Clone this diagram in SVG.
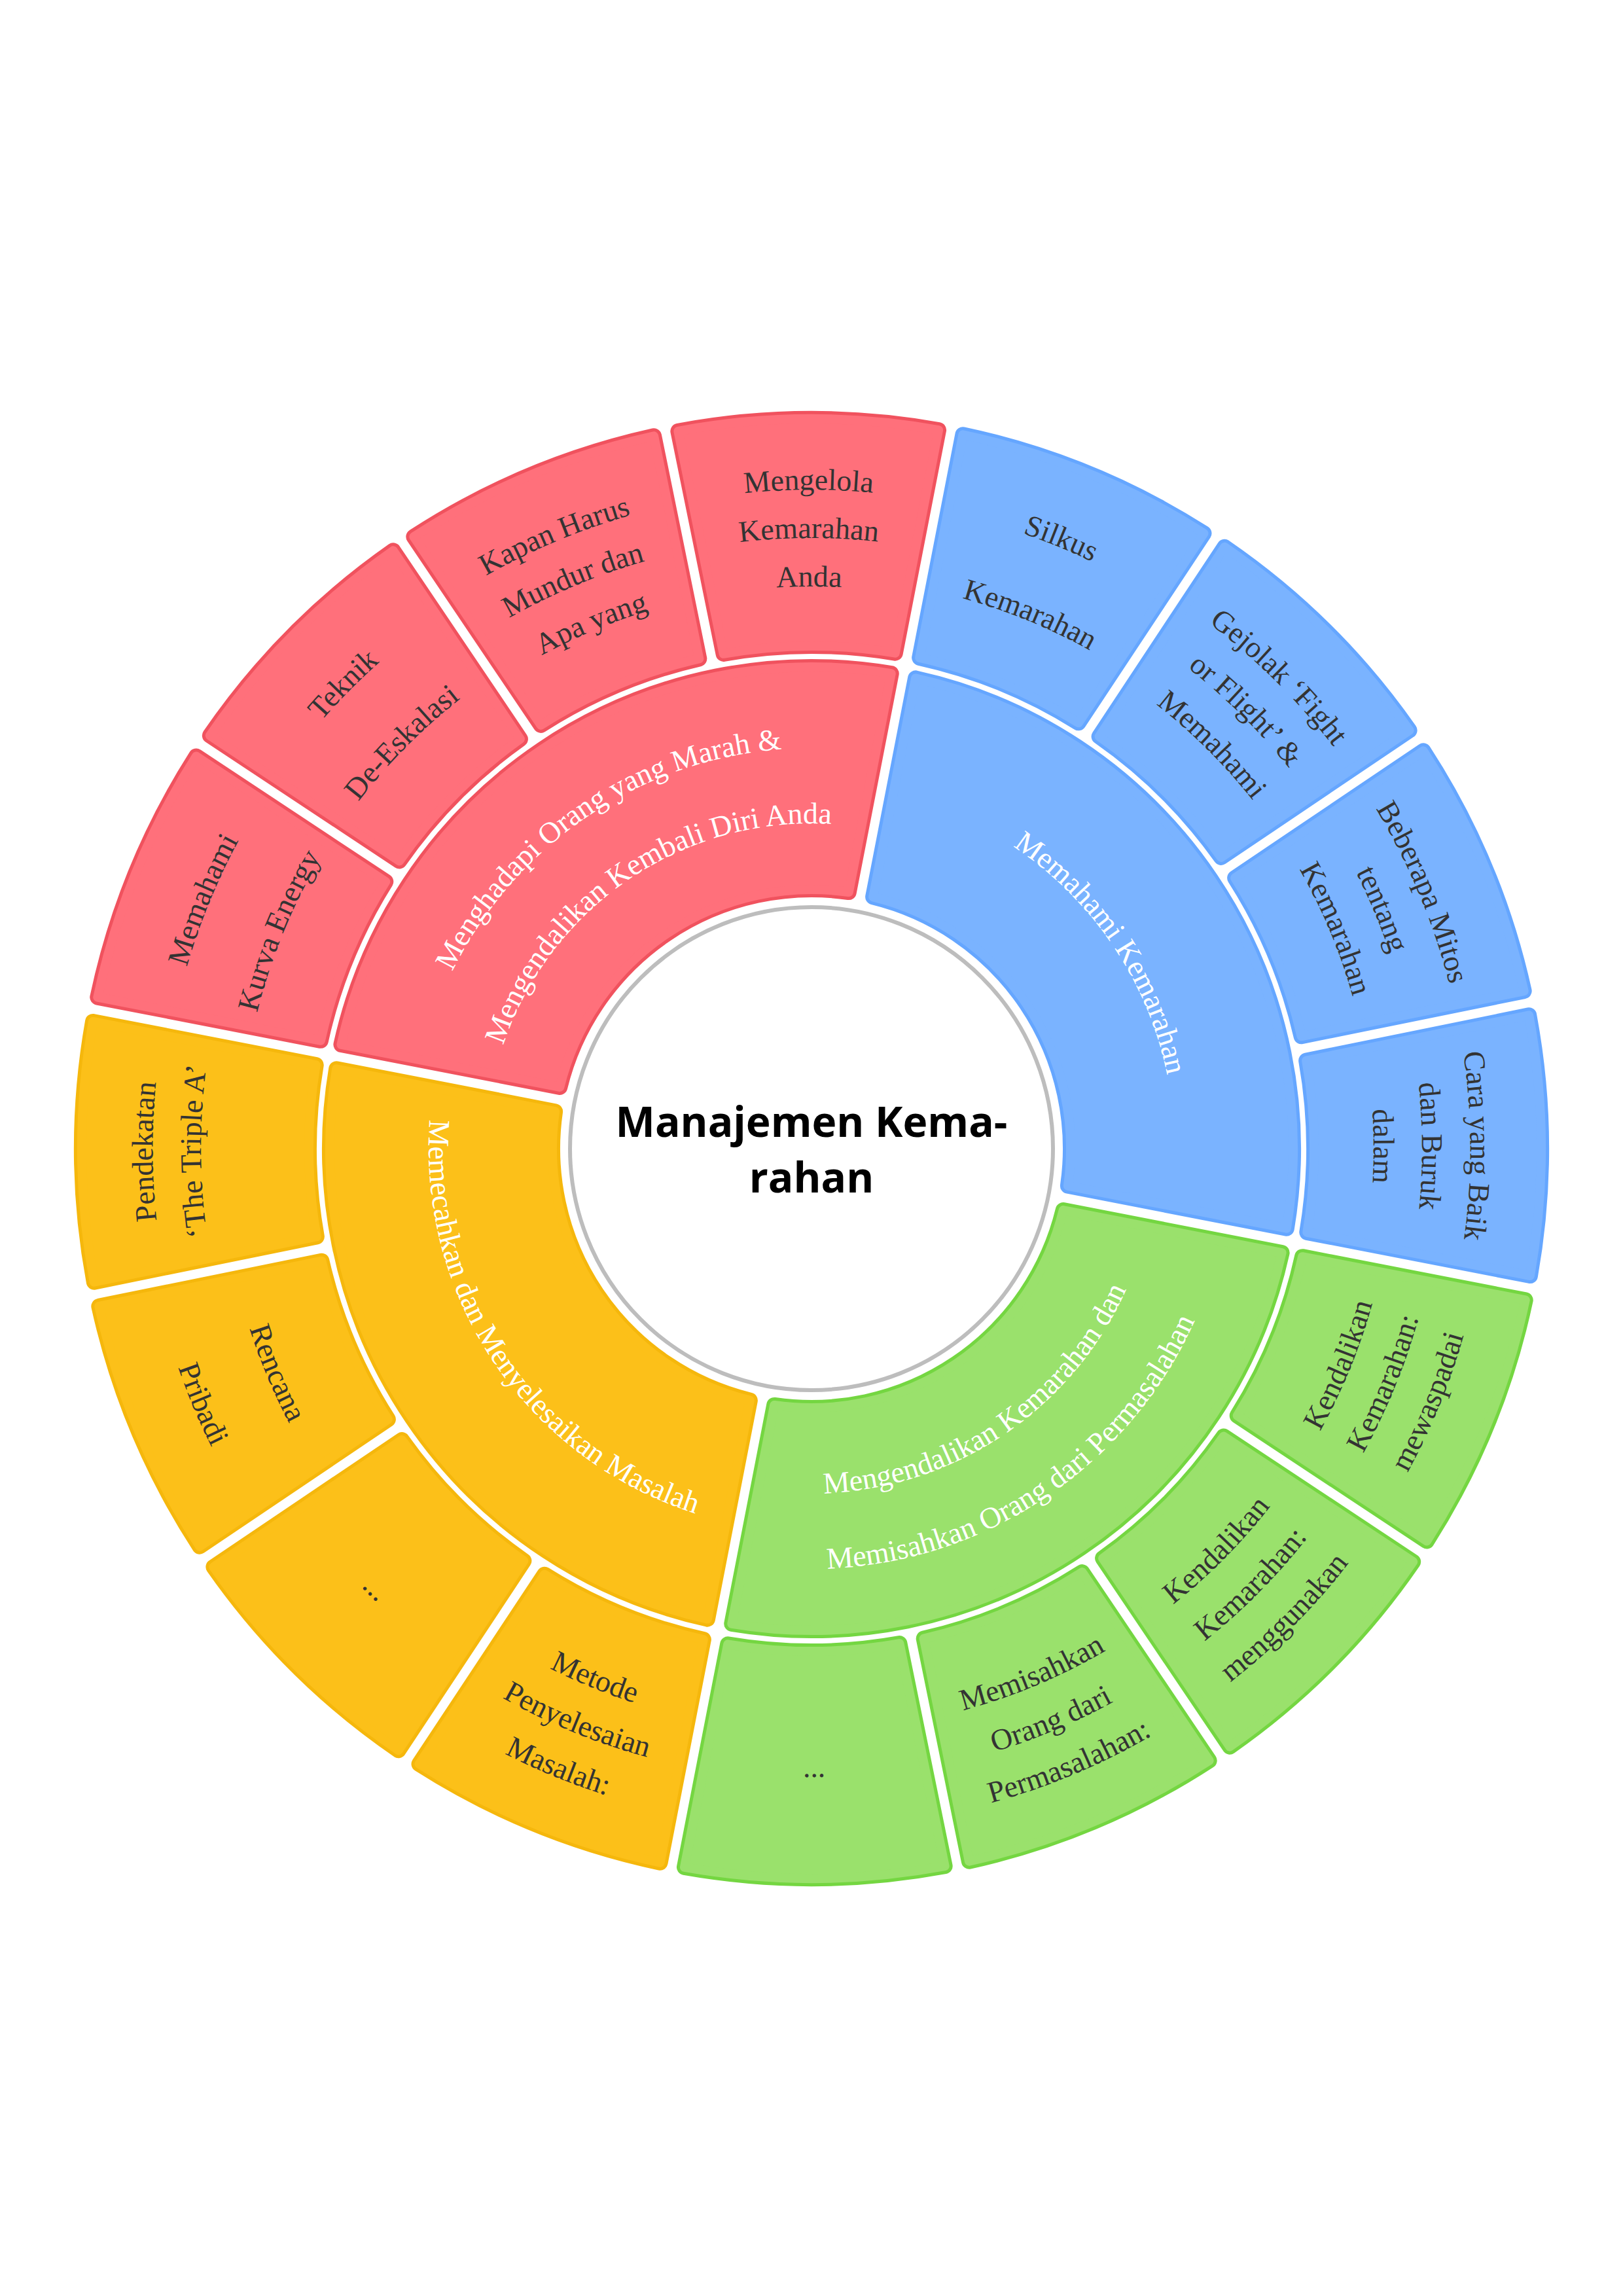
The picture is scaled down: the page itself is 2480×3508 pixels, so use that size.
<svg xmlns="http://www.w3.org/2000/svg" xmlns:xlink="http://www.w3.org/1999/xlink" width="2480" height="3508" viewBox="0 0 2480 3508">
<style>
.rb{fill:#F0525E;stroke:#F0525E;stroke-width:24;stroke-linejoin:round}
.rf{fill:#FF707B;stroke:#FF707B;stroke-width:14;stroke-linejoin:round}
.bb{fill:#65A6FF;stroke:#65A6FF;stroke-width:24;stroke-linejoin:round}
.bf{fill:#7AB3FF;stroke:#7AB3FF;stroke-width:14;stroke-linejoin:round}
.gb{fill:#74D641;stroke:#74D641;stroke-width:24;stroke-linejoin:round}
.gf{fill:#9AE16C;stroke:#9AE16C;stroke-width:14;stroke-linejoin:round}
.yb{fill:#F5B70C;stroke:#F5B70C;stroke-width:24;stroke-linejoin:round}
.yf{fill:#FCC019;stroke:#FCC019;stroke-width:14;stroke-linejoin:round}
.lo{font-family:"Liberation Serif","Times New Roman",serif;font-size:46px;fill:#333333;text-anchor:middle}
.li{font-family:"Liberation Serif","Times New Roman",serif;font-size:46px;fill:#ffffff;text-anchor:middle}
.ct{font-family:"Open Sans","Noto Sans",sans-serif;font-size:64px;font-weight:700;fill:#000000;text-anchor:middle}
</style>
<defs>
<path id="so" d="M1041.13,657.88 A1115,1115 0 0 1 1438.87,657.88 L1371.15,998.28 A768,768 0 0 0 1108.85,998.28 Z"/>
<path id="si" d="M733.18,1221.31 A736,736 0 0 1 1746.82,1221.31 L1506.26,1461.87 A396,396 0 0 0 973.74,1461.87 Z"/>
<path id="t1007" d="M233,1755 A1007,1007 0 0 1 2247,1755"/>
<path id="t933" d="M307,1755 A933,933 0 0 1 2173,1755"/>
<path id="t859" d="M381,1755 A859,859 0 0 1 2099,1755"/>
<path id="t994" d="M246,1755 A994,994 0 0 1 2234,1755"/>
<path id="t872" d="M368,1755 A872,872 0 0 1 2112,1755"/>
<path id="b889" d="M351,1755 A889,889 0 0 0 2129,1755"/>
<path id="b963" d="M277,1755 A963,963 0 0 0 2203,1755"/>
<path id="b1037" d="M203,1755 A1037,1037 0 0 0 2277,1755"/>
<path id="b902" d="M338,1755 A902,902 0 0 0 2142,1755"/>
<path id="b1024" d="M216,1755 A1024,1024 0 0 0 2264,1755"/>
<path id="b960" d="M280,1755 A960,960 0 0 0 2200,1755"/>
<path id="t612" d="M628,1755 A612,612 0 0 1 1852,1755"/>
<path id="t497" d="M743,1755 A497,497 0 0 1 1737,1755"/>
<path id="t555" d="M685,1755 A555,555 0 0 1 1795,1755"/>
<path id="b527" d="M713,1755 A527,527 0 0 0 1767,1755"/>
<path id="b642" d="M598,1755 A642,642 0 0 0 1882,1755"/>
<path id="b585" d="M655,1755 A585,585 0 0 0 1825,1755"/>
</defs>
<rect x="0" y="0" width="2480" height="3508" fill="#ffffff"/>

<g id="inner-red" transform="rotate(326 1240 1755)">
<use href="#si" class="rb"/><use href="#si" class="rf"/>
<text class="li"><textPath href="#t612" startOffset="50%">Menghadapi Orang yang Marah &amp;</textPath></text>
<text class="li"><textPath href="#t497" startOffset="50%">Mengendalikan Kembali Diri Anda</textPath></text>
</g>
<g id="inner-blue" transform="rotate(56 1240 1755)">
<use href="#si" class="bb"/><use href="#si" class="bf"/>
<text class="li"><textPath href="#t555" startOffset="50%">Memahami Kemarahan</textPath></text>
</g>
<g id="inner-green" transform="rotate(146 1240 1755)">
<use href="#si" class="gb"/><use href="#si" class="gf"/>
<g transform="rotate(180 1240 1755)">
<text class="li"><textPath href="#b527" startOffset="50%">Mengendalikan Kemarahan dan</textPath></text>
<text class="li"><textPath href="#b642" startOffset="50%">Memisahkan Orang dari Permasalahan</textPath></text>
</g>
</g>
<g id="inner-yellow" transform="rotate(236 1240 1755)">
<use href="#si" class="yb"/><use href="#si" class="yf"/>
<g transform="rotate(180 1240 1755)">
<text class="li"><textPath href="#b585" startOffset="50%">Memecahkan dan Menyelesaikan Masalah</textPath></text>
</g>
</g>

<g id="outer-silkus" transform="rotate(22.25 1240 1755)">
<use href="#so" class="bb"/><use href="#so" class="bf"/>
<text class="lo"><textPath href="#t994" startOffset="50%">Silkus</textPath></text>
<text class="lo"><textPath href="#t872" startOffset="50%">Kemarahan</textPath></text>
</g>
<g id="outer-gejolak" transform="rotate(44.75 1240 1755)">
<use href="#so" class="bb"/><use href="#so" class="bf"/>
<text class="lo"><textPath href="#t1007" startOffset="50%">Gejolak ‘Fight</textPath></text>
<text class="lo"><textPath href="#t933" startOffset="50%">or Flight’ &amp;</textPath></text>
<text class="lo"><textPath href="#t859" startOffset="50%">Memahami</textPath></text>
</g>
<g id="outer-mitos" transform="rotate(67.25 1240 1755)">
<use href="#so" class="bb"/><use href="#so" class="bf"/>
<text class="lo"><textPath href="#t1007" startOffset="50%">Beberapa Mitos</textPath></text>
<text class="lo"><textPath href="#t933" startOffset="50%">tentang</textPath></text>
<text class="lo"><textPath href="#t859" startOffset="50%">Kemarahan</textPath></text>
</g>
<g id="outer-cara" transform="rotate(89.75 1240 1755)">
<use href="#so" class="bb"/><use href="#so" class="bf"/>
<text class="lo"><textPath href="#t1007" startOffset="50%">Cara yang Baik</textPath></text>
<text class="lo"><textPath href="#t933" startOffset="50%">dan Buruk</textPath></text>
<text class="lo"><textPath href="#t859" startOffset="50%">dalam</textPath></text>
</g>

<g id="outer-mewaspadai" transform="rotate(112.25 1240 1755)">
<use href="#so" class="gb"/><use href="#so" class="gf"/>
<g transform="rotate(180 1240 1755)">
<text class="lo"><textPath href="#b889" startOffset="50%">Kendalikan</textPath></text>
<text class="lo"><textPath href="#b963" startOffset="50%">Kemarahan:</textPath></text>
<text class="lo"><textPath href="#b1037" startOffset="50%">mewaspadai</textPath></text>
</g>
</g>
<g id="outer-menggunakan" transform="rotate(134.75 1240 1755)">
<use href="#so" class="gb"/><use href="#so" class="gf"/>
<g transform="rotate(180 1240 1755)">
<text class="lo"><textPath href="#b889" startOffset="50%">Kendalikan</textPath></text>
<text class="lo"><textPath href="#b963" startOffset="50%">Kemarahan:</textPath></text>
<text class="lo"><textPath href="#b1037" startOffset="50%">menggunakan</textPath></text>
</g>
</g>
<g id="outer-memisahkan" transform="rotate(157.25 1240 1755)">
<use href="#so" class="gb"/><use href="#so" class="gf"/>
<g transform="rotate(180 1240 1755)">
<text class="lo"><textPath href="#b889" startOffset="50%">Memisahkan</textPath></text>
<text class="lo"><textPath href="#b963" startOffset="50%">Orang dari</textPath></text>
<text class="lo"><textPath href="#b1037" startOffset="50%">Permasalahan:</textPath></text>
</g>
</g>
<g id="outer-green-more" transform="rotate(179.75 1240 1755)">
<use href="#so" class="gb"/><use href="#so" class="gf"/>
<g transform="rotate(180 1240 1755)">
<text class="lo"><textPath href="#b960" startOffset="50%">...</textPath></text>
</g>
</g>

<g id="outer-metode" transform="rotate(202.25 1240 1755)">
<use href="#so" class="yb"/><use href="#so" class="yf"/>
<g transform="rotate(180 1240 1755)">
<text class="lo"><textPath href="#b889" startOffset="50%">Metode</textPath></text>
<text class="lo"><textPath href="#b963" startOffset="50%">Penyelesaian</textPath></text>
<text class="lo"><textPath href="#b1037" startOffset="50%">Masalah:</textPath></text>
</g>
</g>
<g id="outer-yellow-more" transform="rotate(224.75 1240 1755)">
<use href="#so" class="yb"/><use href="#so" class="yf"/>
<g transform="rotate(180 1240 1755)">
<text class="lo"><textPath href="#b960" startOffset="50%">...</textPath></text>
</g>
</g>
<g id="outer-rencana" transform="rotate(247.25 1240 1755)">
<use href="#so" class="yb"/><use href="#so" class="yf"/>
<g transform="rotate(180 1240 1755)">
<text class="lo"><textPath href="#b902" startOffset="50%">Rencana</textPath></text>
<text class="lo"><textPath href="#b1024" startOffset="50%">Pribadi</textPath></text>
</g>
</g>
<g id="outer-pendekatan" transform="rotate(269.75 1240 1755)">
<use href="#so" class="yb"/><use href="#so" class="yf"/>
<text class="lo"><textPath href="#t1007" startOffset="50%">Pendekatan</textPath></text>
<text class="lo"><textPath href="#t933" startOffset="50%">‘The Triple A’</textPath></text>
</g>

<g id="outer-kurva" transform="rotate(292.25 1240 1755)">
<use href="#so" class="rb"/><use href="#so" class="rf"/>
<text class="lo"><textPath href="#t994" startOffset="50%">Memahami</textPath></text>
<text class="lo"><textPath href="#t872" startOffset="50%">Kurva Energy</textPath></text>
</g>
<g id="outer-teknik" transform="rotate(314.75 1240 1755)">
<use href="#so" class="rb"/><use href="#so" class="rf"/>
<text class="lo"><textPath href="#t994" startOffset="50%">Teknik</textPath></text>
<text class="lo"><textPath href="#t872" startOffset="50%">De-Eskalasi</textPath></text>
</g>
<g id="outer-kapan" transform="rotate(337.25 1240 1755)">
<use href="#so" class="rb"/><use href="#so" class="rf"/>
<text class="lo"><textPath href="#t1007" startOffset="50%">Kapan Harus</textPath></text>
<text class="lo"><textPath href="#t933" startOffset="50%">Mundur dan</textPath></text>
<text class="lo"><textPath href="#t859" startOffset="50%">Apa yang</textPath></text>
</g>
<g id="outer-mengelola" transform="rotate(359.75 1240 1755)">
<use href="#so" class="rb"/><use href="#so" class="rf"/>
<text class="lo"><textPath href="#t1007" startOffset="50%">Mengelola</textPath></text>
<text class="lo"><textPath href="#t933" startOffset="50%">Kemarahan</textPath></text>
<text class="lo"><textPath href="#t859" startOffset="50%">Anda</textPath></text>
</g>

<g id="center">
<circle cx="1240" cy="1755" r="369" fill="#ffffff" stroke="#BDBDBD" stroke-width="6"/>
<text class="ct" x="1240" y="1737">Manajemen Kema-</text>
<text class="ct" x="1240" y="1822">rahan</text>
</g>
</svg>
